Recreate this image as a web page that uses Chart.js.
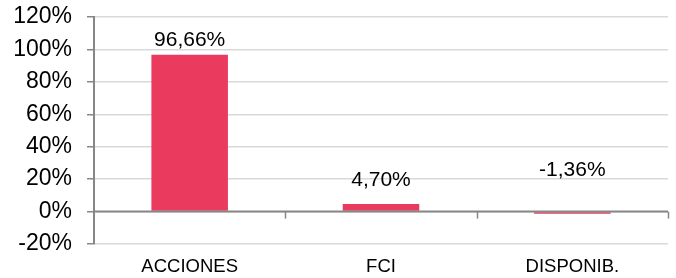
<!DOCTYPE html>
<html>
<head>
<meta charset="utf-8">
<script src="https://cdn.jsdelivr.net/npm/chart.js@4"></script>
<style>
  html, body { margin: 0; padding: 0; background: #fff; }
  #wrap { width: 676px; height: 278px; }
</style>
</head>
<body>
<div id="wrap"><canvas id="chart" width="676" height="278"></canvas></div>
<script>
// --- Data ---
const categories = ["ACCIONES", "FCI", "DISPONIB."];
const values = [96.66, 4.70, -1.36];
const yTicks = [-20, 0, 20, 40, 60, 80, 100, 120];

const BAR_COLOR = "#EA3A5E";
const AXIS_COLOR = "#878787";
const GRID_COLOR = "#D9D9D9";
const FONT = "'Liberation Sans', Arial, sans-serif";

function fmtPct(v) {
	return v.toFixed(2).replace(".", ",") + "%";
}

// zero line tick marks at category boundaries + value labels
const zeroAxisPlugin = {
	id: "zeroAxis",
	afterDatasetsDraw(chart, args, opts) {
		const { ctx, chartArea } = chart;
		const x = chart.scales.x;
		const y = chart.scales.y;
		const y0 = y.getPixelForValue(0);
		ctx.save();
		ctx.strokeStyle = AXIS_COLOR;
		ctx.lineWidth = 2;
		ctx.beginPath();
		ctx.moveTo(chartArea.left, y0);
		ctx.lineTo(chartArea.right, y0);
		ctx.stroke();
		// boundaries between categories
		const bounds = [];
		for (let i = 0; i < categories.length - 1; i++) {
			bounds.push((x.getPixelForValue(i) + x.getPixelForValue(i + 1)) / 2);
		}
		bounds.push(chartArea.right);
		ctx.lineWidth = 1.5;
		bounds.forEach((bx) => {
			ctx.beginPath();
			ctx.moveTo(Math.round(bx) + 0.5, y0);
			ctx.lineTo(Math.round(bx) + 0.5, y0 + 7);
			ctx.stroke();
		});
		ctx.restore();

		// value labels
		const meta = chart.getDatasetMeta(0);
		ctx.save();
		ctx.font = "21px " + FONT;
		ctx.fillStyle = "#000";
		ctx.textAlign = "center";
		ctx.textBaseline = "bottom";
		meta.data.forEach((bar, i) => {
			const top = Math.min(bar.y, y0);
			ctx.fillText(fmtPct(values[i]), bar.x, top - opts.gaps[i]);
		});
		ctx.restore();
	},
};

const chart = new Chart(document.getElementById("chart"), {
	type: "bar",
	data: {
		labels: categories,
		datasets: [
			{
				data: values,
				backgroundColor: BAR_COLOR,
				borderWidth: 0,
				barPercentage: 0.4,
				categoryPercentage: 1,
			},
		],
	},
	options: {
		responsive: false,
		animation: false,
		devicePixelRatio: 1,
		layout: { padding: { top: 17, right: 8, left: 0, bottom: 0 } },
		plugins: {
			legend: { display: false },
			tooltip: { enabled: false },
			zeroAxis: { gaps: [4, 13, 31] },
		},
		scales: {
			x: {
				offset: true,
				grid: { display: false },
				border: { display: false },
				ticks: {
					color: "#000",
					font: { family: FONT, size: 18.5 },
					padding: 4,
					maxRotation: 0,
				},
				afterFit: (scale) => {
					scale.height = 34;
				},
			},
			y: {
				min: -20,
				max: 120,
				afterBuildTicks: (scale) => {
					scale.ticks = yTicks.map((v) => ({ value: v }));
				},
				grid: {
					color: GRID_COLOR,
					lineWidth: 1.5,
					tickColor: AXIS_COLOR,
					tickLength: 7,
					drawTicks: true,
				},
				border: { display: true, color: AXIS_COLOR, width: 2 },
				ticks: {
					color: "#000",
					font: { family: FONT, size: 23 },
					padding: 15,
					callback: (v) => v + "%",
				},
				afterFit: (scale) => {
					scale.width = 94;
					scale.paddingTop = 0;
					scale.paddingBottom = 0;
				},
			},
		},
	},
	plugins: [zeroAxisPlugin],
});
</script>
</body>
</html>
